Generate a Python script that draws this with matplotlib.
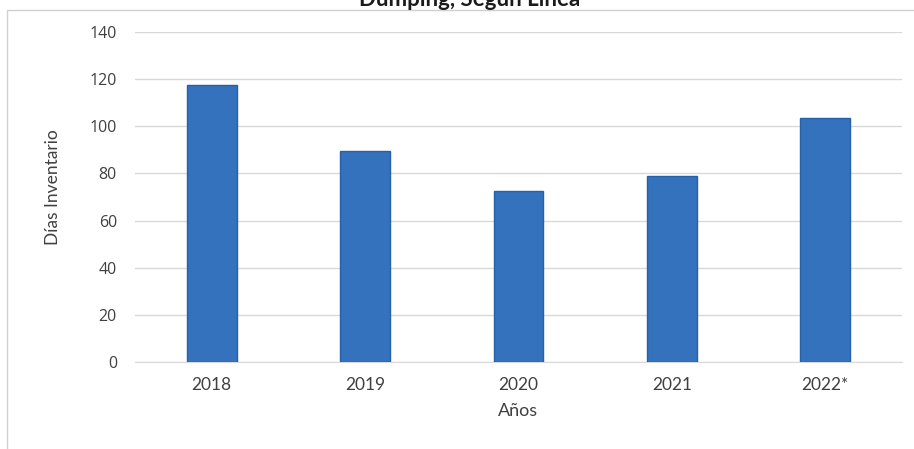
import numpy as np
import matplotlib
matplotlib.use("Agg")
import matplotlib.pyplot as plt
from matplotlib.patches import Rectangle

# Data
years = ['2018', '2019', '2020', '2021', '2022*']
dias_inventario = [117.5, 89.5, 72.5, 79, 103.5]
y_ticks = [0, 20, 40, 60, 80, 100, 120, 140]

plt.rcParams['font.family'] = ['Lato', 'DejaVu Sans']

fig = plt.figure(figsize=(9.14, 4.49), dpi=100)
ax = fig.add_axes([135 / 914, 1 - 362 / 449, 767 / 914, 330 / 449])

# Outer chart frame (left/top edges visible in the scan)
fig.patches.append(Rectangle((7 / 914, -0.05), 1.1, 1 - 10 / 449 + 0.05,
                             transform=fig.transFigure, fill=False,
                             edgecolor='#d0d0d0', linewidth=1.0))

x = np.arange(len(years))
ax.bar(x, dias_inventario, width=0.325, color='#3572bd', edgecolor='#2560a8',
       linewidth=1.0, zorder=3)

ax.set_xlim(-0.5, len(years) - 0.5)
ax.set_ylim(0, 140)
ax.set_yticks(y_ticks)
ax.set_xticks(x)
ax.set_xticklabels(years)

ax.grid(axis='y', color='#d9d9d9', linewidth=1.0, zorder=0)
for side in ['top', 'right', 'left']:
    ax.spines[side].set_visible(False)
ax.spines['bottom'].set_color('#d9d9d9')
ax.tick_params(axis='both', length=0, colors='#404040')
ax.tick_params(axis='y', pad=13, labelsize=11.5)
ax.tick_params(axis='x', pad=11, labelsize=12.5)
ax.set_yticklabels([str(v) for v in y_ticks], fontfamily=['Open Sans', 'DejaVu Sans'],
                   fontsize=11.5)

ax.set_ylabel('Días Inventario', fontsize=12.5, color='#404040')
ax.yaxis.set_label_coords(-0.097, 0.53)
ax.set_xlabel('Años', fontsize=13, color='#404040', labelpad=7)

# Title cut off at the top edge in the reference
fig.text(0.514, 1 - 6 / 449, 'Dumping, Según Línea', ha='center', va='baseline',
         fontsize=16, fontweight='bold', color='#1a1a1a')

fig.savefig('out.png', dpi=100)
